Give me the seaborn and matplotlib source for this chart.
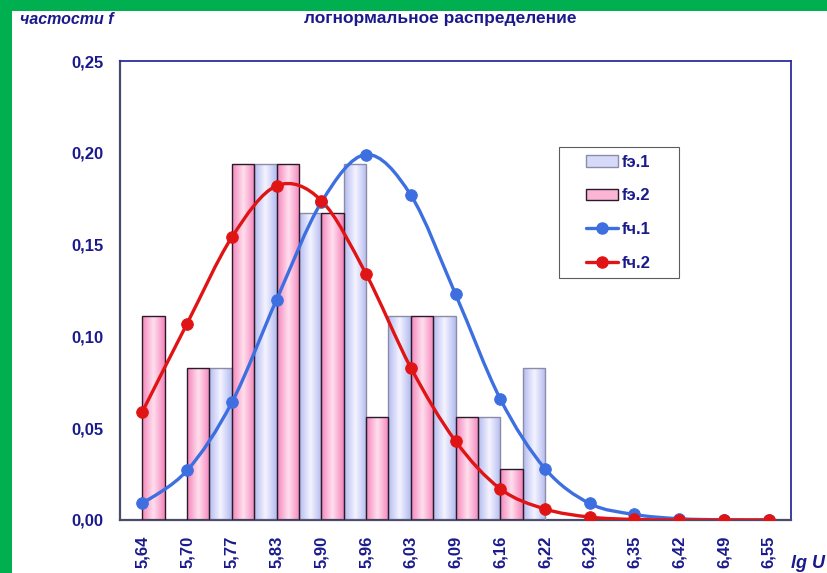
import numpy as np
import pandas as pd
import matplotlib
matplotlib.use("Agg")
import matplotlib.pyplot as plt
import seaborn as sns
from matplotlib.path import Path
from matplotlib.patches import PathPatch, Patch, Rectangle
from matplotlib.lines import Line2D
from matplotlib.colors import LinearSegmentedColormap
from matplotlib.legend_handler import HandlerPatch, HandlerLine2D

# data
lg_u = ["5,64", "5,70", "5,77", "5,83", "5,90", "5,96", "6,03", "6,09",
        "6,16", "6,22", "6,29", "6,35", "6,42", "6,49", "6,55"]
f_e1 = [0.0, 0.0, 0.083, 0.194, 0.167, 0.194, 0.111, 0.111,
        0.056, 0.083, 0.0, 0.0, 0.0, 0.0, 0.0]
f_e2 = [0.111, 0.083, 0.194, 0.194, 0.167, 0.056, 0.111, 0.056,
        0.028, 0.0, 0.0, 0.0, 0.0, 0.0, 0.0]
f_c1 = [0.009, 0.027, 0.064, 0.120, 0.173, 0.199, 0.177, 0.123,
        0.066, 0.028, 0.009, 0.003, 0.0007, 0.0001, 0.0]
f_c2 = [0.059, 0.107, 0.154, 0.182, 0.174, 0.134, 0.083, 0.043,
        0.017, 0.006, 0.0016, 0.0003, 0.0, 0.0, 0.0]

NAVY = "#1a1a8c"
GREEN = "#00b050"
BLUE = "#3d6fe0"
RED = "#e01414"

sns.set_style("white")
plt.rcParams["font.family"] = ["Liberation Sans", "DejaVu Sans"]

bars = pd.DataFrame({
    "lg U": lg_u * 2,
    "f": f_e1 + f_e2,
    "series": ["fэ.1"] * len(lg_u) + ["fэ.2"] * len(lg_u),
})

fig = plt.figure(figsize=(8.27, 5.73), dpi=100, facecolor=GREEN)
fig.patches.append(Rectangle((12 / 827, 0), 1, 1 - 11 / 573, transform=fig.transFigure,
                             facecolor="white", edgecolor="none", zorder=-10))
ax = fig.add_axes([120 / 827, 1 - 520 / 573, 671 / 827, 459 / 573])
ax.set_zorder(1)

sns.barplot(data=bars, x="lg U", y="f", hue="series", order=lg_u,
            hue_order=["fэ.1", "fэ.2"], width=1.0, gap=0, dodge=True,
            palette=["#c8ccf4", "#f99cc8"], ax=ax, legend=False)

# gradient fill in each bar, lighter in the middle
cmaps = {
    0: LinearSegmentedColormap.from_list("lav", ["#b4bbf0", "#f4f4ff", "#b4bbf0"]),
    1: LinearSegmentedColormap.from_list("pink", ["#f585bb", "#ffe0ee", "#f585bb"]),
}
edges = {0: "#8c8ca8", 1: "#2a1a2a"}
grad = np.linspace(0, 1, 64).reshape(1, -1)
n = len(lg_u)
for i, p in enumerate(list(ax.patches)):
    s = i // n
    x0, w, h = p.get_x(), p.get_width(), p.get_height()
    p.set_facecolor("none")
    p.set_edgecolor(edges[s])
    p.set_linewidth(1.0)
    p.set_zorder(3)
    if h <= 0:
        p.set_visible(False)
        continue
    im = ax.imshow(grad, cmap=cmaps[s], aspect="auto", extent=(x0, x0 + w, 0, h),
                   zorder=2, interpolation="bicubic")
    im.set_clip_path(p)


def smooth_path(xs, ys):
    # Excel-style smoothed line through the points (Catmull-Rom as Bezier)
    pts = np.column_stack([xs, ys])
    verts = [pts[0]]
    codes = [Path.MOVETO]
    for k in range(len(pts) - 1):
        p0 = pts[max(k - 1, 0)]
        p1, p2 = pts[k], pts[k + 1]
        p3 = pts[min(k + 2, len(pts) - 1)]
        verts += [p1 + (p2 - p0) / 6, p2 - (p3 - p1) / 6, p2]
        codes += [Path.CURVE4] * 3
    return Path(verts, codes)


xs = np.arange(n)
for vals, col in [(f_c1, BLUE), (f_c2, RED)]:
    ax.add_patch(PathPatch(smooth_path(xs, vals), facecolor="none", edgecolor=col,
                           lw=2.4, zorder=4, capstyle="round"))
    sns.scatterplot(x=xs, y=vals, color=col, s=70, edgecolor=col, zorder=5, ax=ax,
                    legend=False)

ax.set_xlim(-0.5, n - 0.5)
ax.set_ylim(0, 0.25)
ax.set_yticks(np.arange(0, 0.2501, 0.05))
ax.set_yticklabels([f"{v:.2f}".replace(".", ",") for v in np.arange(0, 0.2501, 0.05)])
ax.set_xticks(xs)
ax.set_xticklabels(lg_u, rotation=90)
ax.set_xticks(np.arange(-0.5, n, 1.0), minor=True)
ax.tick_params(axis="x", which="major", length=0, pad=11, labelsize=12, labelcolor=NAVY)
ax.tick_params(axis="x", which="minor", length=6, width=1, color="#444460", direction="out")
ax.tick_params(axis="y", length=6, width=1, color="#444460", direction="out",
               labelsize=12, labelcolor=NAVY, pad=6)
for lab in ax.get_xticklabels() + ax.get_yticklabels():
    lab.set_fontweight("bold")
ax.set_xlabel("")
ax.set_ylabel("")
for side in ["left", "bottom"]:
    ax.spines[side].set_color("#4a4a6a")
    ax.spines[side].set_linewidth(1.6)
for side in ["top", "right"]:
    ax.spines[side].set_color("#2e2e99")
    ax.spines[side].set_linewidth(1.3)

handles = [
    Patch(facecolor="#d6daf8", edgecolor="#8c8ca8", label="fэ.1"),
    Patch(facecolor="#fbb6d6", edgecolor="#2a1a2a", label="fэ.2"),
    Line2D([], [], color=BLUE, lw=2.4, marker="o", markersize=8, label="fч.1"),
    Line2D([], [], color=RED, lw=2.4, marker="o", markersize=8, label="fч.2"),
]
leg = ax.legend(handles=handles, loc="upper left",
                bbox_to_anchor=(0.654, 0.529, 0.179, 0.2836), mode="expand",
                frameon=True, fancybox=False, edgecolor="#333333", labelspacing=1.12,
                handlelength=3.1, handletextpad=0.2, borderpad=0.45,
                prop={"weight": "bold", "size": 12}, borderaxespad=0,
                handler_map={Patch: HandlerPatch(xpad=1.15),
                             Line2D: HandlerLine2D(xpad=1.15)})
leg.get_frame().set_linewidth(0.8)
for t in leg.get_texts():
    t.set_color(NAVY)

fig.text(20 / 827, 1 - 20 / 573, "частости f", color=NAVY, fontsize=11.5,
         fontweight="bold", fontstyle="italic", va="center", ha="left")
fig.text(440 / 827, 1 - 18 / 573, "логнормальное распределение", color=NAVY,
         fontsize=12.5, fontweight="bold", va="center", ha="center")
fig.text(825 / 827, 1 - 564 / 573, "lg U", color=NAVY, fontsize=13,
         fontweight="bold", fontstyle="italic", va="center", ha="right")

fig.savefig("out.png", dpi=100, facecolor=GREEN)
